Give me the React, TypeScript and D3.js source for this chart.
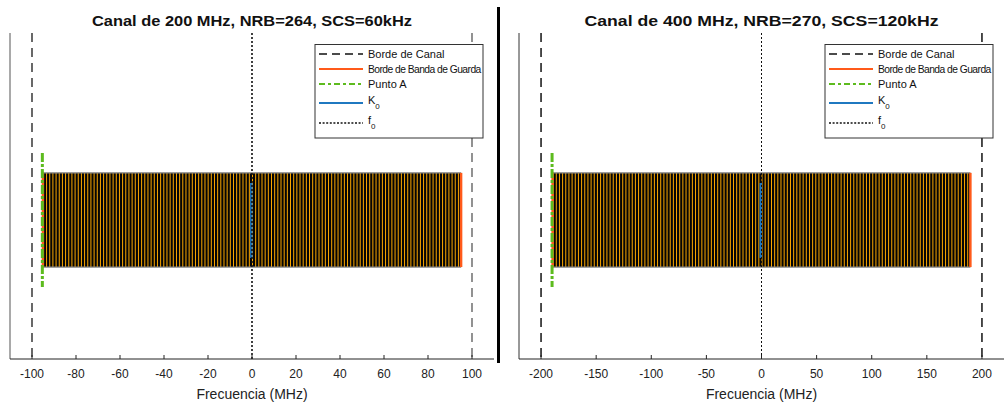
import React from "react";
import * as d3 from "d3";

// ---------- data ----------
const TITLES = [
  "Canal de 200 MHz, NRB=264, SCS=60kHz",
  "Canal de 400 MHz, NRB=270, SCS=120kHz",
];
const X_DOMAINS: [number, number][] = [
  [-110, 110],
  [-220, 220],
];
const X_TICKS: number[][] = [
  [-100, -80, -60, -40, -20, 0, 20, 40, 60, 80, 100],
  [-200, -150, -100, -50, 0, 50, 100, 150, 200],
];
const CHANNEL_EDGES: [number, number][] = [
  [-100, 100],
  [-200, 200],
];
const GUARD_EDGES: [number, number][] = [
  [-95.04, 95.04],
  [-189.5, 189.5],
];
const RB_COUNTS = [264, 264];
const POINT_A = [-95.3, -190.0];
const K0 = [-0.3, -0.7];
const F0 = [0, 0];
const LEGEND_LABELS = [
  "Borde de Canal",
  "Borde de Banda de Guarda",
  "Punto A",
  "K",
  "f",
];

// vertical extents (arbitrary units, y domain [0,1])
const BAND_Y: [number, number] = [0.282, 0.571];
const POINTA_Y: [number, number] = [0.221, 0.632];
const K0_Y: [number, number] = [0.31, 0.54];

// ---------- layout ----------
const W = 1008;
const H = 403;
const PANELS = [
  { x0: 10, x1: 494, axisColor: "#8c8c8c", axisW: 1.5, edgeColors: ["#444", "#777"], f0W: 1.6, legendX: 315, titleLen: 320 },
  { x0: 519, x1: 1004, axisColor: "#333", axisW: 1, edgeColors: ["#222", "#222"], f0W: 1, legendX: 825, titleLen: 354 },
];
const Y_TOP = 33;
const Y_BOT = 359;

const ORANGE = "#FFAA00";
const GUARD = "#FF5A1A";
const GREEN = "#5DBB1E";
const BLUE = "#1F78C0";

function Panel({ idx }: { idx: number }) {
  const p = PANELS[idx];
  const x = d3.scaleLinear().domain(X_DOMAINS[idx]).range([p.x0, p.x1]);
  const y = d3.scaleLinear().domain([0, 1]).range([Y_BOT, Y_TOP]);
  const [gL, gR] = GUARD_EDGES[idx];
  const n = RB_COUNTS[idx];
  const rbW = (gR - gL) / n;
  const stripes = d3.range(0, n, 2).map((i) => {
    const a = x(gL + i * rbW);
    const b = x(gL + (i + 1) * rbW);
    return { a, w: (b - a) * 0.62 };
  });
  const cx = (p.x0 + p.x1) / 2;
  const lx = p.legendX;
  const rows = [54, 69, 84, 103, 123];
  const font = "'Liberation Sans', Arial, sans-serif";
  return (
    <g>
      {/* title */}
      <text
        x={cx}
        y={26}
        textAnchor="middle"
        fontFamily={font}
        fontWeight="bold"
        fontSize={15}
        fill="#111"
        textLength={p.titleLen}
        lengthAdjust="spacingAndGlyphs"
      >
        {TITLES[idx]}
      </text>

      {/* band */}
      <rect
        x={x(gL)}
        y={y(BAND_Y[1])}
        width={x(gR) - x(gL)}
        height={y(BAND_Y[0]) - y(BAND_Y[1])}
        fill="#050505"
      />
      {stripes.map((s, i) => (
        <rect
          key={i}
          x={s.a}
          y={y(BAND_Y[1])}
          width={s.w}
          height={y(BAND_Y[0]) - y(BAND_Y[1])}
          fill={ORANGE}
        />
      ))}
      <line x1={x(gL)} x2={x(gR)} y1={y(BAND_Y[1])} y2={y(BAND_Y[1])} stroke="#8a8a8a" strokeWidth={1.2} />
      <line x1={x(gL)} x2={x(gR)} y1={y(BAND_Y[0])} y2={y(BAND_Y[0])} stroke="#8a8a8a" strokeWidth={1.2} />

      {/* guard band edges */}
      {GUARD_EDGES[idx].map((g, i) => (
        <line
          key={i}
          x1={x(g)}
          x2={x(g)}
          y1={y(BAND_Y[1])}
          y2={y(BAND_Y[0])}
          stroke={GUARD}
          strokeWidth={2.5}
        />
      ))}

      {/* Punto A */}
      <line
        x1={x(POINT_A[idx])}
        x2={x(POINT_A[idx])}
        y1={y(POINTA_Y[1])}
        y2={y(POINTA_Y[0])}
        stroke={GREEN}
        strokeWidth={3}
        strokeDasharray="9,2,3,2"
      />

      {/* K0 */}
      <line
        x1={x(K0[idx])}
        x2={x(K0[idx])}
        y1={y(K0_Y[1])}
        y2={y(K0_Y[0])}
        stroke={BLUE}
        strokeWidth={2.5}
      />

      {/* f0 */}
      <line
        x1={x(F0[idx])}
        x2={x(F0[idx])}
        y1={Y_TOP}
        y2={Y_BOT}
        stroke="#111"
        strokeWidth={p.f0W}
        strokeDasharray="2,2"
      />

      {/* channel edges */}
      {CHANNEL_EDGES[idx].map((c, i) => (
        <line
          key={i}
          x1={x(c)}
          x2={x(c)}
          y1={Y_TOP}
          y2={Y_BOT}
          stroke={p.edgeColors[i]}
          strokeWidth={1.6}
          strokeDasharray="9,6"
        />
      ))}

      {/* axes */}
      <line x1={p.x0} x2={p.x0} y1={Y_TOP} y2={Y_BOT} stroke={p.axisColor} strokeWidth={p.axisW} />
      <line x1={p.x0} x2={p.x1} y1={Y_BOT} y2={Y_BOT} stroke="#222" strokeWidth={1} />
      {X_TICKS[idx].map((t) => (
        <g key={t}>
          <line x1={x(t)} x2={x(t)} y1={Y_BOT} y2={Y_BOT - 4} stroke="#222" strokeWidth={1} />
          <text
            x={x(t)}
            y={378}
            textAnchor="middle"
            fontFamily={font}
            fontSize={12}
            fill="#222"
          >
            {t}
          </text>
        </g>
      ))}
      <text x={cx} y={399} textAnchor="middle" fontFamily={font} fontSize={14} fill="#222">
        Frecuencia (MHz)
      </text>

      {/* legend */}
      <rect x={lx} y={44.5} width={168} height={93.5} fill="#fff" stroke="#333" strokeWidth={1} />
      {rows.map((ry, i) => {
        const style = [
          { stroke: "#111", dash: "8,5", w: 1.6 },
          { stroke: GUARD, dash: "", w: 2 },
          { stroke: GREEN, dash: "6,3,3,3", w: 2 },
          { stroke: BLUE, dash: "", w: 2 },
          { stroke: "#111", dash: "2,1.6", w: 1.3 },
        ][i];
        return (
          <g key={i}>
            <line
              x1={lx + 4}
              x2={lx + 48}
              y1={ry}
              y2={ry}
              stroke={style.stroke}
              strokeWidth={style.w}
              strokeDasharray={style.dash || undefined}
            />
            <text
              x={lx + 53}
              y={i >= 3 ? ry + 1 : ry + 4}
              fontFamily={font}
              fontSize={i === 1 ? 10.3 : 11}
              fill="#111"
              letterSpacing={i === 1 ? -0.55 : undefined}
            >
              {LEGEND_LABELS[i]}
              {i >= 3 ? (
                <tspan fontSize={8} dy={5}>
                  0
                </tspan>
              ) : null}
            </text>
          </g>
        );
      })}
    </g>
  );
}

export default function App() {
  return (
    <svg
      width={W}
      height={H}
      style={{ position: "absolute", left: 0, top: 0, background: "#fff" }}
    >
      <rect width={W} height={H} fill="#fff" />
      <Panel idx={0} />
      <Panel idx={1} />
      <line x1={498.5} x2={498.5} y1={7} y2={363} stroke="#000" strokeWidth={3} />
    </svg>
  );
}
